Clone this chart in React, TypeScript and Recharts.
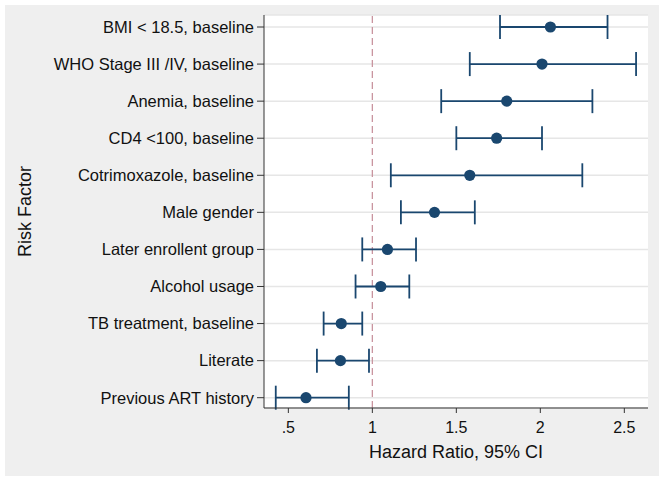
import {
  ScatterChart,
  Scatter,
  XAxis,
  YAxis,
  CartesianGrid,
  ErrorBar,
  ReferenceLine,
  Label,
} from "recharts";

// risk factors, top to bottom
const factors = [
  "BMI < 18.5, baseline",
  "WHO Stage III /IV, baseline",
  "Anemia, baseline",
  "CD4 <100, baseline",
  "Cotrimoxazole, baseline",
  "Male gender",
  "Later enrollent group",
  "Alcohol usage",
  "TB treatment, baseline",
  "Literate",
  "Previous ART history",
];

const hazard = [2.06, 2.01, 1.8, 1.74, 1.58, 1.37, 1.09, 1.05, 0.815, 0.81, 0.605];
const ciLow = [1.76, 1.58, 1.41, 1.5, 1.11, 1.17, 0.94, 0.9, 0.71, 0.67, 0.425];
const ciHigh = [2.4, 2.57, 2.31, 2.01, 2.25, 1.61, 1.26, 1.22, 0.94, 0.98, 0.86];

const xTicks = [0.5, 1, 1.5, 2, 2.5];
const rowTicks = factors.map((_, i) => i + 1);

const NAVY = "#1a476f";
const FONT = "'Liberation Sans', Arial, Helvetica, sans-serif";

const rows = factors.map((name, i) => ({
  name,
  row: i + 1,
  hr: hazard[i],
  err: [hazard[i] - ciLow[i], ciHigh[i] - hazard[i]],
}));

const fmtX = (v: number) => (v === 0.5 ? ".5" : String(v));

const Dot = (props: any) => {
  const { cx, cy } = props;
  return <circle cx={cx} cy={cy} r={5.6} fill={NAVY} />;
};

export default function App() {
  return (
    <div
      style={{
        position: "absolute",
        left: 0,
        top: 0,
        width: 666,
        height: 483,
        background: "#fff",
        fontFamily: FONT,
      }}
    >
      <div
        style={{
          position: "absolute",
          left: 5,
          top: 5,
          width: 654,
          height: 471,
          background: "#efefef",
        }}
      />
      <div style={{ position: "absolute", left: 0, top: 0 }}>
        <ScatterChart
          width={666}
          height={483}
          margin={{ top: 15, right: 18, bottom: 5, left: 5 }}
        >
          <CartesianGrid
            vertical={false}
            horizontal
            fill="#ffffff"
            stroke="#e6e6e6"
            strokeWidth={1.5}
          />
          <XAxis
            type="number"
            dataKey="hr"
            domain={[0.355, 2.641]}
            allowDataOverflow
            ticks={xTicks}
            tickFormatter={fmtX}
            height={70}
            tickSize={5}
            tickMargin={9}
            stroke="#333"
            tick={{ fill: "#111", fontSize: 16, fontFamily: FONT }}
          >
            <Label
              value="Hazard Ratio, 95% CI"
              position="insideBottom"
              offset={20}
              style={{ fill: "#111", fontSize: 18, fontFamily: FONT }}
            />
          </XAxis>
          <YAxis
            type="number"
            dataKey="row"
            domain={[0.676, 11.278]}
            allowDataOverflow
            reversed
            ticks={rowTicks}
            interval={0}
            tickFormatter={(v: number) => factors[v - 1] ?? ""}
            width={259}
            tickSize={7}
            tickMargin={3}
            stroke="#333"
            tick={{ fill: "#111", fontSize: 16.5, fontFamily: FONT }}
          >
            <Label
              content={() => (
                <text
                  x={31}
                  y={211.5}
                  transform="rotate(-90, 31, 211.5)"
                  textAnchor="middle"
                  fill="#111"
                  fontSize={18}
                  fontFamily={FONT}
                >
                  Risk Factor
                </text>
              )}
            />
          </YAxis>
          <ReferenceLine
            x={1}
            stroke="#c9959f"
            strokeWidth={1.3}
            strokeDasharray="7 4"
          />
          <Scatter data={rows} shape={<Dot />} isAnimationActive={false}>
            <ErrorBar
              dataKey="err"
              direction="x"
              width={12}
              stroke={NAVY}
              strokeWidth={1.8}
            />
          </Scatter>
        </ScatterChart>
      </div>
    </div>
  );
}
